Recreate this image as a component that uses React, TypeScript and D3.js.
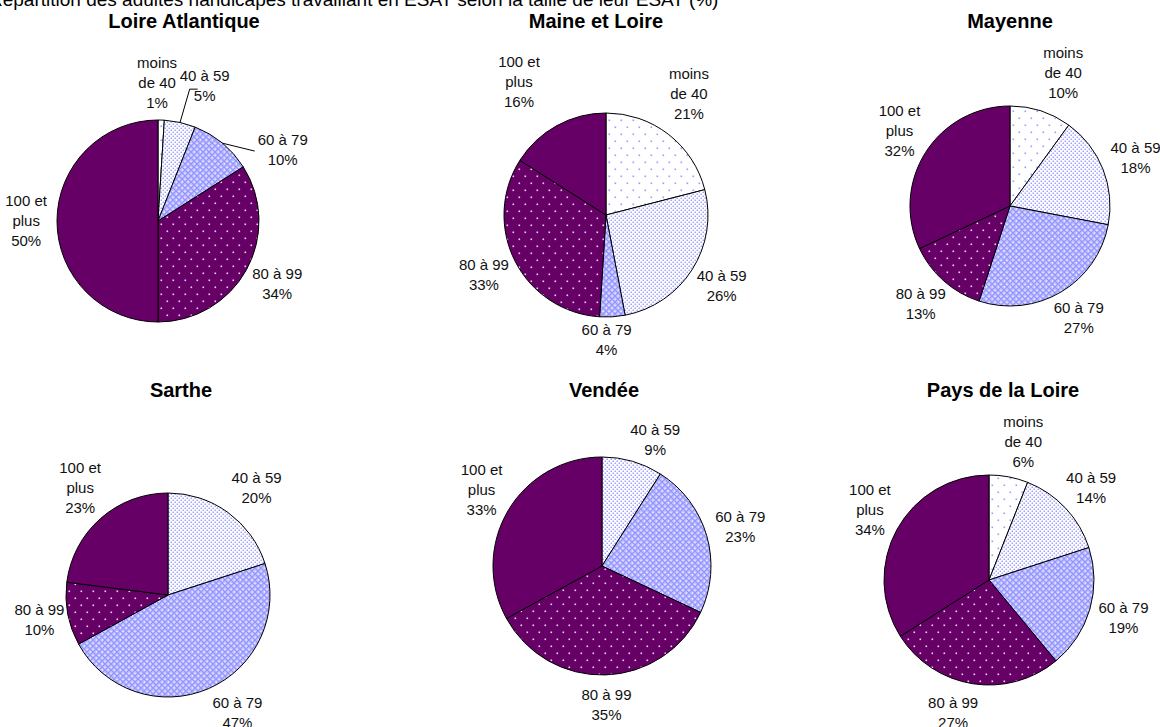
import React, { useMemo } from "react";
import * as d3 from "d3";

// ---------- Data ----------
const mainTitle =
  "Répartition des adultes handicapés travaillant en ESAT selon la taille de leur ESAT (%)";
const categories = ["moins de 40", "40 à 59", "60 à 79", "80 à 99", "100 et plus"];
const categoryLines = [["moins", "de 40"], ["40 à 59"], ["60 à 79"], ["80 à 99"], ["100 et", "plus"]];
const departements = [
  "Loire Atlantique",
  "Maine et Loire",
  "Mayenne",
  "Sarthe",
  "Vendée",
  "Pays de la Loire",
];
const loireAtlantique = [1, 5, 10, 34, 50];
const maineEtLoire = [21, 26, 4, 33, 16];
const mayenne = [10, 18, 27, 13, 32];
const sarthe = [0, 20, 47, 10, 23];
const vendee = [0, 9, 23, 35, 33];
const paysDeLaLoire = [6, 14, 19, 27, 34];
const seriesValues = [loireAtlantique, maineEtLoire, mayenne, sarthe, vendee, paysDeLaLoire];

// ---------- Layout / style ----------
const W = 1160;
const H = 727;
const FONT = "'Liberation Sans', Arial, sans-serif";
const LABEL_SIZE = 15;
const LINE_H = 20;
const TITLE_SIZE = 20;

const layout = [
  { cx: 158, cy: 221, r: 101, tx: 184, ty: 28 },
  { cx: 606, cy: 215, r: 102, tx: 596, ty: 28 },
  { cx: 1010, cy: 206, r: 100, tx: 1010, ty: 28 },
  { cx: 168, cy: 595, r: 102, tx: 181, ty: 397 },
  { cx: 602, cy: 566, r: 109, tx: 604, ty: 397 },
  { cx: 989, cy: 580, r: 105, tx: 1003, ty: 397 },
];

const labelOffsets: Record<string, [number, number]> = {
  "0-0": [-5, 3],
  "0-1": [17, -7],
  "0-2": [38, 30],
  "1-0": [2, -9],
  "1-2": [-8, -7],
  "1-4": [-23, -9],
  "2-0": [13, 0],
  "3-1": [8, 0],
  "3-2": [15, -3],
  "3-3": [6, 0],
  "4-1": [13, 7],
  "5-0": [9, 4],
  "5-3": [-14, 0],
};

// leader line end points relative to label center
const leaders: Record<string, [number, number][]> = {
  "0-1": [
    [-15, 3],
    [-7, 3],
  ],
  "0-2": [[-28, 1]],
};

const fills = ["url(#pMoins)", "url(#p4059)", "url(#p6079)", "url(#p8099)", "#660066"];

let measureCtx: CanvasRenderingContext2D | null = null;
function textWidth(s: string, size: number) {
  if (!measureCtx) {
    const c = document.createElement("canvas");
    measureCtx = c.getContext("2d");
  }
  if (!measureCtx) return s.length * size * 0.55;
  measureCtx.font = `${size}px 'Liberation Sans', Arial, sans-serif`;
  return measureCtx.measureText(s).width;
}

function PieChart({ idx }: { idx: number }) {
  const values = seriesValues[idx];
  const L = layout[idx];
  const pie = d3
    .pie<number>()
    .sort(null)
    .value((d) => d)
    .startAngle(0)
    .endAngle(2 * Math.PI);
  const arcs = pie(values);
  const arc = d3.arc<d3.PieArcDatum<number>>().innerRadius(0).outerRadius(L.r);

  return (
    <g>
      <text
        x={L.tx}
        y={L.ty}
        textAnchor="middle"
        fontFamily={FONT}
        fontWeight="bold"
        fontSize={TITLE_SIZE}
        fill="#000"
      >
        {departements[idx]}
      </text>
      <g transform={`translate(${L.cx},${L.cy})`}>
        {arcs.map((a, i) =>
          a.value > 0 ? (
            <path key={i} d={arc(a) || ""} fill={fills[i]} stroke="#000" strokeWidth={1} />
          ) : null
        )}
      </g>
      {arcs.map((a, i) => {
        if (a.value <= 0) return null;
        const key = `${idx}-${i}`;
        const mid = (a.startAngle + a.endAngle) / 2;
        const s = Math.sin(mid);
        const c = Math.cos(mid);
        const lines = [...categoryLines[i], `${values[i]}%`];
        const w = d3.max(lines, (t) => textWidth(t, LABEL_SIZE)) || 0;
        const h = lines.length * LINE_H;
        const px = L.cx + (L.r + 10) * s;
        const py = L.cy - (L.r + 10) * c;
        const off = labelOffsets[key] || [0, 0];
        const lx = px + (w / 2) * s + off[0];
        const ly = py - (h / 2) * c + off[1];
        const top = ly - h / 2;
        const leader = leaders[key];
        let leaderPath: string | null = null;
        if (leader) {
          const sx = L.cx + L.r * s;
          const sy = L.cy - L.r * c;
          const pts: [number, number][] = [
            [sx, sy],
            ...leader.map((p) => [lx + p[0], ly + p[1]] as [number, number]),
          ];
          leaderPath = d3.line()(pts);
        }
        return (
          <g key={key}>
            {leaderPath && <path d={leaderPath} fill="none" stroke="#000" strokeWidth={1} />}
            <text textAnchor="middle" fontFamily={FONT} fontSize={LABEL_SIZE} fill="#111">
              {lines.map((t, j) => (
                <tspan key={j} x={lx} y={top + j * LINE_H + 15}>
                  {t}
                </tspan>
              ))}
            </text>
          </g>
        );
      })}
    </g>
  );
}

export default function App() {
  const charts = useMemo(() => departements.map((_, i) => i), []);
  return (
    <svg
      width={W}
      height={H}
      viewBox={`0 0 ${W} ${H}`}
      style={{ position: "absolute", left: 0, top: 0, background: "#fff" }}
    >
      <title>{categories.join(", ")}</title>
      <defs>
        <pattern id="pMoins" patternUnits="userSpaceOnUse" width={12} height={14}>
          <rect width={12} height={14} fill="#fff" />
          <rect x={2.5} y={2.5} width={1.6} height={1.6} fill="#9a9aff" />
          <rect x={8.5} y={9.5} width={1.6} height={1.6} fill="#9a9aff" />
        </pattern>
        <pattern id="p4059" patternUnits="userSpaceOnUse" width={4} height={4}>
          <rect width={4} height={4} fill="#fff" />
          <rect x={0.5} y={0.5} width={1.5} height={1.5} fill="#a4a4ff" />
          <rect x={2.5} y={2.5} width={1.5} height={1.5} fill="#a4a4ff" />
        </pattern>
        <pattern id="p6079" patternUnits="userSpaceOnUse" width={6} height={6}>
          <rect width={6} height={6} fill="#c4c4ff" />
          <path d="M0,0 L6,6 M6,0 L0,6" stroke="#9494ff" strokeWidth={1.2} />
          <rect x={2.5} y={0} width={1} height={1} fill="#fff" />
          <rect x={0} y={2.5} width={1} height={1} fill="#fff" />
        </pattern>
        <pattern id="p8099" patternUnits="userSpaceOnUse" width={12} height={14}>
          <rect width={12} height={14} fill="#660066" />
          <rect x={2.5} y={2.5} width={1.6} height={1.6} fill="#f0d8f0" />
          <rect x={8.5} y={9.5} width={1.6} height={1.6} fill="#f0d8f0" />
        </pattern>
      </defs>
      <rect width={W} height={H} fill="#fff" />
      <text x={-11} y={6} fontFamily={FONT} fontSize={19} fill="#000">
        {mainTitle}
      </text>
      {charts.map((i) => (
        <PieChart key={i} idx={i} />
      ))}
    </svg>
  );
}
